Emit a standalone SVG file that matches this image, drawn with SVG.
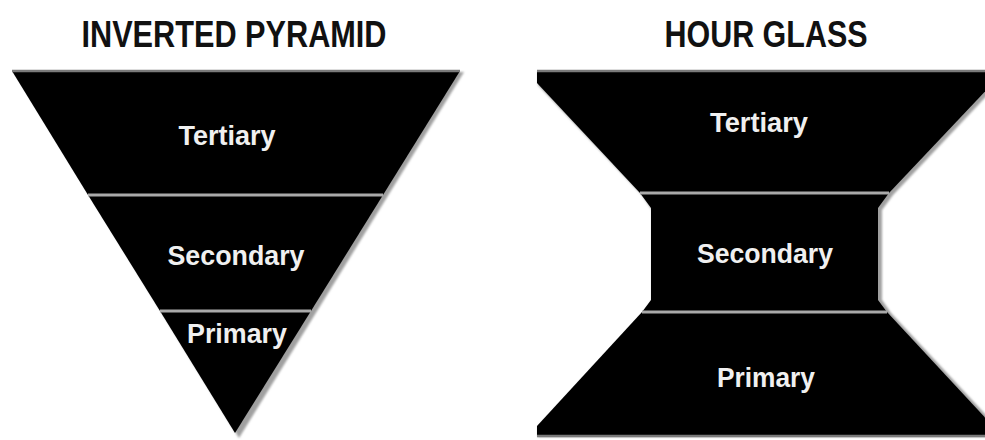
<svg xmlns="http://www.w3.org/2000/svg" width="985" height="440" viewBox="0 0 985 440">
  <style>
    .title { font-family: "Liberation Sans", Arial, sans-serif; font-weight: bold; font-size: 37px; fill: #111; text-anchor: middle; }
    .label { font-family: "Liberation Sans", Arial, sans-serif; font-weight: bold; font-size: 27px; fill: #f0f0f0; text-anchor: middle; }
    .block { fill: #000; }
    .shadow { fill: #a0a0a0; filter: url(#soft); }
    .edge { stroke: #7a7a7a; stroke-width: 2.5; fill: none; }
    .divider { stroke: #a9a9a9; stroke-width: 3; fill: none; }
  </style>
  <defs>
    <filter id="soft" x="-5%" y="-5%" width="110%" height="110%">
      <feGaussianBlur stdDeviation="0.9"/>
    </filter>
  </defs>
  <rect width="985" height="440" fill="#fff"/>

  <text class="title" x="234" y="47" textLength="305" lengthAdjust="spacingAndGlyphs">INVERTED PYRAMID</text>
  <text class="title" x="766" y="47" textLength="203" lengthAdjust="spacingAndGlyphs">HOUR GLASS</text>

  <!-- Inverted pyramid -->
  <g id="pyramid">
    <polygon class="shadow" points="15,73 464,72 239,438"/>
    <g id="pyr-tertiary">
      <polygon class="block" points="12,71 460,71 383,195 88,195"/>
      <text class="label" x="227" y="145" textLength="97" lengthAdjust="spacingAndGlyphs">Tertiary</text>
    </g>
    <g id="pyr-secondary">
      <polygon class="block" points="88,195 383,195 311,311 160,311"/>
      <text class="label" x="236" y="265" textLength="137" lengthAdjust="spacingAndGlyphs">Secondary</text>
    </g>
    <g id="pyr-primary">
      <polygon class="block" points="160,311 311,311 235,433"/>
      <text class="label" x="237" y="343" textLength="100" lengthAdjust="spacingAndGlyphs">Primary</text>
    </g>
    <line class="edge" x1="12" y1="71" x2="460" y2="71"/>
    <line class="divider" x1="88" y1="195" x2="383" y2="195"/>
    <line class="divider" x1="160" y1="311" x2="311" y2="311"/>
  </g>

  <!-- Hour glass -->
  <g id="hourglass">
    <polygon class="shadow" points="538,72 997,72 997,85 893,195 882,210 882,300 891,313 997,427 997,437 538,437 538,427 644,313 652,300 652,210 642,195 538,85"/>
    <g id="hg-tertiary">
      <polygon class="block" points="537,71 993,71 993,83 889,193 640,193 537,83"/>
      <text class="label" x="759" y="132" textLength="98" lengthAdjust="spacingAndGlyphs">Tertiary</text>
    </g>
    <g id="hg-secondary">
      <polygon class="block" points="640,193 889,193 878,208 878,300 887,312 642,312 651,300 651,208"/>
      <text class="label" x="765" y="263" textLength="136" lengthAdjust="spacingAndGlyphs">Secondary</text>
    </g>
    <g id="hg-primary">
      <polygon class="block" points="642,312 887,312 993,426 993,436 537,436 537,426"/>
      <text class="label" x="766" y="387" textLength="98" lengthAdjust="spacingAndGlyphs">Primary</text>
    </g>
    <line class="edge" x1="537" y1="71" x2="985" y2="71"/>
    <line class="edge" x1="537" y1="436" x2="985" y2="436"/>
    <line class="divider" stroke-width="4" x1="640" y1="193" x2="889" y2="193"/>
    <line class="divider" stroke-width="4" x1="642" y1="312" x2="887" y2="312"/>
  </g>

  <g id="connectors"/>
</svg>
